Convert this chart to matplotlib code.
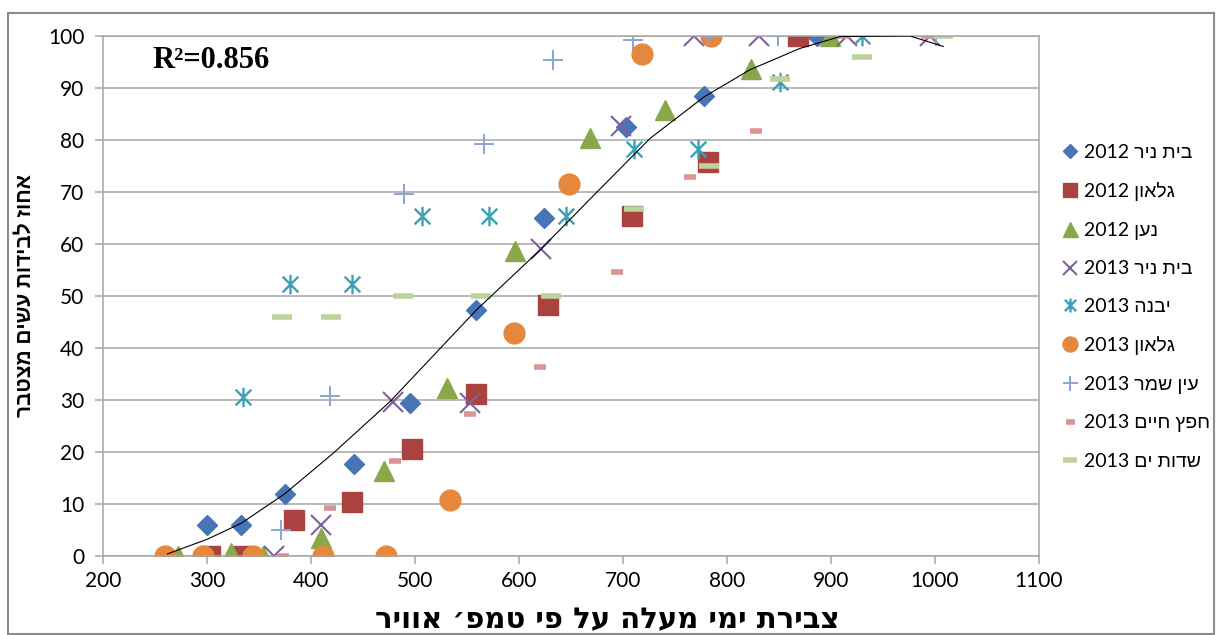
import matplotlib
matplotlib.use("Agg")
import matplotlib.pyplot as plt
from matplotlib.path import Path
from matplotlib.patches import Rectangle

# --- data ---
beit_nir_2012_x = [300, 333, 375, 441, 495, 559, 624, 703, 778, 887]
beit_nir_2012_y = [6, 6, 12, 17.7, 29.5, 47.3, 65, 82.5, 88.4, 100]

gilon_2012_x = [303, 335, 384, 439, 497, 559, 628, 709, 782, 868]
gilon_2012_y = [0, 0, 7, 10.4, 20.6, 31.2, 48.3, 65.4, 75.8, 100]

naan_2012_x = [272, 323, 354, 410, 470, 531, 596, 668, 740, 823, 899]
naan_2012_y = [0, 0.6, 0, 3.4, 16.4, 32.3, 58.6, 80.4, 85.7, 93.7, 100]

beit_nir_2013_x = [364, 410, 479, 553, 621, 698, 768, 831, 915, 995]
beit_nir_2013_y = [0, 6, 29.6, 29.5, 59, 82.6, 100, 100, 100, 100]

yavne_2013_x = [335, 380, 439, 507, 571, 645, 711, 772, 851, 930]
yavne_2013_y = [30.5, 52.3, 52.3, 65.3, 65.3, 65.3, 78.2, 78.2, 91.2, 100]

gilon_2013_x = [260, 296, 344, 412, 472, 534, 595, 648, 718, 785]
gilon_2013_y = [0, 0, 0, 0, 0, 10.7, 42.8, 71.5, 96.5, 100]

ein_shemer_2013_x = [371, 418, 489, 566, 633, 710, 782, 849, 1001]
ein_shemer_2013_y = [5, 30.8, 69.7, 79.2, 95.3, 99.3, 100, 100, 100]

hefetz_haim_2013_x = [373, 418, 481, 553, 620, 694, 764, 828, 912, 992]
hefetz_haim_2013_y = [0, 9.2, 18.3, 27.4, 36.3, 54.6, 72.8, 81.7, 100, 100]

sdot_yam_2013_x = [372, 419, 488, 563, 631, 711, 783, 851, 930, 1008]
sdot_yam_2013_y = [45.9, 45.9, 50, 50, 50, 66.7, 75, 91.7, 95.9, 100]

# trend line as traced on the picture
trend_x = [262, 300, 333, 375, 421, 476, 559, 621, 675, 726, 778, 822, 870, 909, 976, 1008]
trend_y = [0.4, 3.2, 6.3, 12, 19.7, 29.7, 47.3, 59, 70, 80.3, 88.3, 93.5, 97.6, 99.9, 100, 98]

labels = ["בית ניר 2012", "גלאון 2012", "נען 2012", "בית ניר 2013", "יבנה 2013",
          "גלאון 2013", "עין שמר 2013", "חפץ חיים 2013", "שדות ים 2013"]
x_label = "צבירת ימי מעלה על פי טמפ׳ אוויר"
y_label = "אחוז לבידות עשים מצטבר"
r2_text = "R²=0.856"


def rtl(s):
    # matplotlib has no bidi support: put Hebrew words in visual order
    out = []
    for w in reversed(s.split(" ")):
        if any("\u0590" <= ch <= "\u05FF" for ch in w):
            out.append(w[::-1])
        else:
            out.append(w)
    return " ".join(out)


asterisk = Path([(-0.5, -0.5), (0.5, 0.5), (-0.5, 0.5), (0.5, -0.5), (0, -0.62), (0, 0.62)],
                [Path.MOVETO, Path.LINETO, Path.MOVETO, Path.LINETO, Path.MOVETO, Path.LINETO])

series = [
    (beit_nir_2012_x, beit_nir_2012_y, dict(marker="D", ms=10.5, color="#4674B4", mec="#4674B4")),
    (gilon_2012_x, gilon_2012_y, dict(marker="s", ms=14, color="#AA4340", mec="#AA4340")),
    (naan_2012_x, naan_2012_y, dict(marker="^", ms=15, color="#88A84A", mec="#88A84A")),
    (beit_nir_2013_x, beit_nir_2013_y, dict(marker="x", ms=14, mew=1.5, color="#7E60A0")),
    (yavne_2013_x, yavne_2013_y, dict(marker=asterisk, ms=14, mew=1.7, color="#3BA1B8", mfc="none")),
    (gilon_2013_x, gilon_2013_y, dict(marker="o", ms=15, color="#E5873C", mec="#E5873C")),
    (ein_shemer_2013_x, ein_shemer_2013_y, dict(marker="+", ms=15, mew=1.4, color="#87A5D5")),
    (hefetz_haim_2013_x, hefetz_haim_2013_y, dict(marker="_", ms=9, mew=4, color="#D99594")),
    (sdot_yam_2013_x, sdot_yam_2013_y, dict(marker="_", ms=14.5, mew=4, color="#BCD49A")),
]

fig = plt.figure(figsize=(12.16, 6.35), dpi=100)
W, H = 1216, 635
ax = fig.add_axes([103 / W, 1 - 556 / H, (1039 - 103) / W, (556 - 36) / H])

handles = []
for (xs, ys, st), lab in zip(series, labels):
    h, = ax.plot(xs, ys, linestyle="none", label=rtl(lab), **st)
    handles.append(h)

ax.plot(trend_x, trend_y, color="black", lw=0.8, zorder=5)

grid_c = "#A6A6A6"
ax.set_xlim(200, 1100)
ax.set_ylim(0, 100)
ax.set_xticks(range(200, 1101, 100))
ax.set_yticks(range(0, 101, 10))
ax.yaxis.grid(True, color=grid_c, lw=1.1)
ax.set_axisbelow(True)
for sp in ax.spines.values():
    sp.set_color(grid_c)
    sp.set_linewidth(1.1)
ax.tick_params(direction="out", length=5.5, width=1.1, color=grid_c, labelsize=15)
ax.tick_params(axis="y", pad=8)
ax.tick_params(axis="x", pad=5)
for t in ax.get_xticklabels() + ax.get_yticklabels():
    t.set_family(["Lato", "DejaVu Sans"])

fig.text(607 / W, 1 - 620 / H, rtl(x_label), ha="center", va="center", size=21,
         family=["DejaVu Sans"], weight="bold")
fig.text(25 / W, 1 - 295 / H, rtl(y_label), ha="center", va="center", rotation=90,
         size=15, family=["Liberation Sans", "DejaVu Sans"], weight="bold")

fig.text(152 / W, 1 - 61 / H, r2_text, ha="left", va="center",
         family="Liberation Serif", weight="bold", size=22)

fig.legend(handles=handles, loc="upper left", bbox_to_anchor=(1062 / W, 1 - 144 / H),
           bbox_transform=fig.transFigure, frameon=False, borderpad=0, borderaxespad=0,
           handlelength=0.85, handletextpad=0.3, labelspacing=1.07, markerscale=0.72,
           prop=dict(family=["Lato", "Liberation Sans"], size=14))

fig.patches.append(Rectangle((8 / W, 1 / H), 1206 / W, 621 / H, transform=fig.transFigure,
                             fill=False, edgecolor="#8C8C8C", lw=1.5))

fig.savefig("out.png", dpi=100)
